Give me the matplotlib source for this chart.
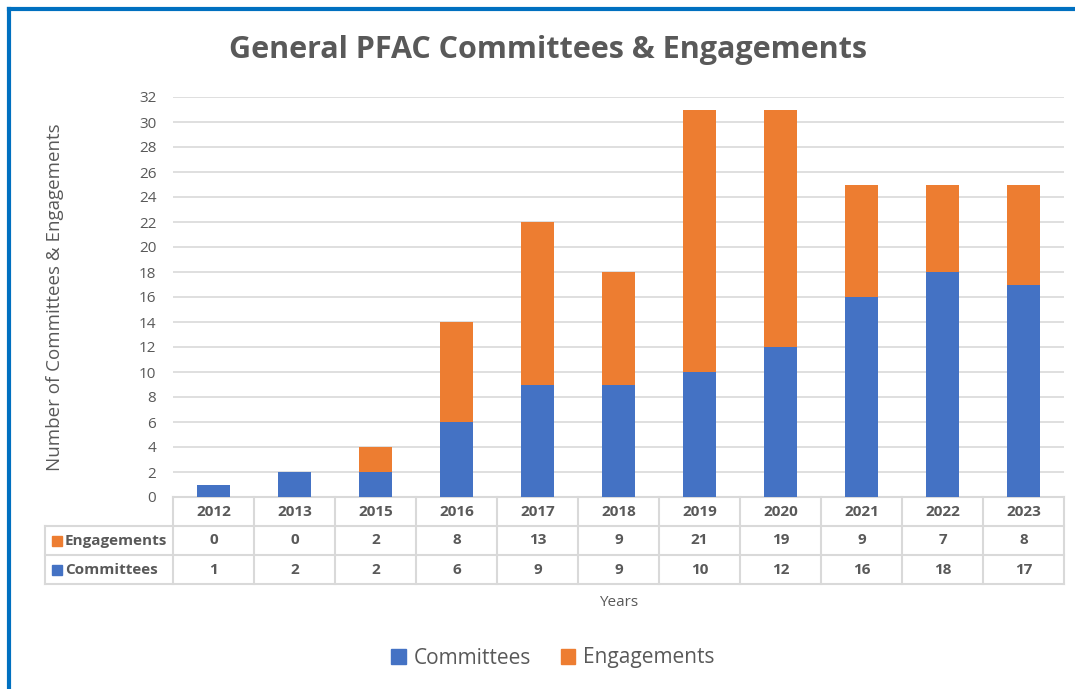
import matplotlib.pyplot as plt
import matplotlib.transforms as mtransforms
from matplotlib.lines import Line2D
from matplotlib.patches import Patch
import numpy as np

# --- Dados ---
anos = ['2012', '2013', '2015', '2016', '2017', '2018', '2019', '2020', '2021', '2022', '2023']
committees = [1, 2, 2, 6, 9, 9, 10, 12, 16, 18, 17]
engagements = [0, 0, 2, 8, 13, 9, 21, 19, 9, 7, 8]

azul = '#4472C4'
laranja = '#ED7D31'
cinza = '#595959'
linha = '#d9d9d9'

plt.rcParams['font.family'] = ['Open Sans', 'DejaVu Sans']

fig = plt.figure(figsize=(10.75, 6.89), dpi=100)
ax = fig.add_axes([173 / 1075, 1 - 497 / 689, (1064 - 173) / 1075, 400 / 689])

x = np.arange(len(anos))
ax.bar(x, committees, width=0.4, color=azul, zorder=3)
ax.bar(x, engagements, width=0.4, bottom=committees, color=laranja, zorder=3)

ax.set_xlim(-0.5, len(anos) - 0.5)
ax.set_ylim(0, 32)
ax.set_yticks(range(0, 33, 2))
ax.set_xticks([])
ax.grid(axis='y', color=linha, linewidth=1.2, zorder=0)
for s in ax.spines.values():
    s.set_visible(False)
ax.tick_params(axis='y', length=0, labelsize=11, labelcolor=cinza, pad=12)
ax.set_ylabel('Number of Committees & Engagements', fontsize=13.5, color=cinza, labelpad=54)

# --- Tabela de dados desenhada a mao ---
trans = mtransforms.blended_transform_factory(ax.transData, ax.transAxes)
h = 29 / 400
x_esq = -0.5 - (173 - 45) / 81
x_dir = len(anos) - 0.5
kw = dict(color=linha, linewidth=1.5, transform=trans, clip_on=False)

ax.add_line(Line2D([-0.5, x_dir], [0, 0], **kw))
for k in (1, 2, 3):
    ax.add_line(Line2D([x_esq, x_dir], [-k * h, -k * h], **kw))
for b in np.arange(-0.5, len(anos), 1.0):
    ax.add_line(Line2D([b, b], [0, -3 * h], **kw))
ax.add_line(Line2D([x_esq, x_esq], [-h, -3 * h], **kw))

fs_tab = 11
for i, ano in enumerate(anos):
    ax.text(i, -0.5 * h, ano, ha='center', va='center', fontsize=fs_tab,
            fontweight='bold', color=cinza, transform=trans)
    ax.text(i, -1.5 * h, str(engagements[i]), ha='center', va='center', fontsize=fs_tab,
            fontweight='bold', color=cinza, transform=trans)
    ax.text(i, -2.5 * h, str(committees[i]), ha='center', va='center', fontsize=fs_tab,
            fontweight='bold', color=cinza, transform=trans)

x_marca = -0.5 - (173 - 57) / 81
x_rot = -0.5 - (173 - 65) / 81
for k, (nome, cor) in enumerate([('Engagements', laranja), ('Committees', azul)]):
    yc = -(1.5 + k) * h
    ax.plot([x_marca], [yc], marker='s', markersize=7, color=cor,
            transform=trans, clip_on=False)
    ax.text(x_rot, yc, nome, ha='left', va='center', fontsize=fs_tab,
            fontweight='bold', color=cinza, transform=trans)

ax.text(0.5, -3 * h - 0.045, 'Years', ha='center', va='center', fontsize=11,
        color=cinza, transform=ax.transAxes)

# --- Titulo e legenda ---
fig.text(548 / 1075, 1 - 50 / 689, 'General PFAC Committees & Engagements',
         ha='center', va='center', fontsize=22, fontweight='bold', color=cinza)

handles = [Patch(color=azul, label='Committees'), Patch(color=laranja, label='Engagements')]
fig.legend(handles=handles, loc='center', bbox_to_anchor=(553 / 1075, 1 - 658 / 689),
           ncol=2, frameon=False, fontsize=15, labelcolor=cinza,
           handlelength=0.7, handleheight=0.7, handletextpad=0.4, columnspacing=1.4)

# --- Borda azul ---
fig.add_artist(Line2D([8.5 / 1075, 8.5 / 1075], [0, 1 - 8.5 / 689], color='#0070C0',
                      linewidth=3, transform=fig.transFigure))
fig.add_artist(Line2D([8.5 / 1075, 1], [1 - 8.5 / 689, 1 - 8.5 / 689], color='#0070C0',
                      linewidth=3, transform=fig.transFigure))

fig.savefig('out.png', dpi=100)
